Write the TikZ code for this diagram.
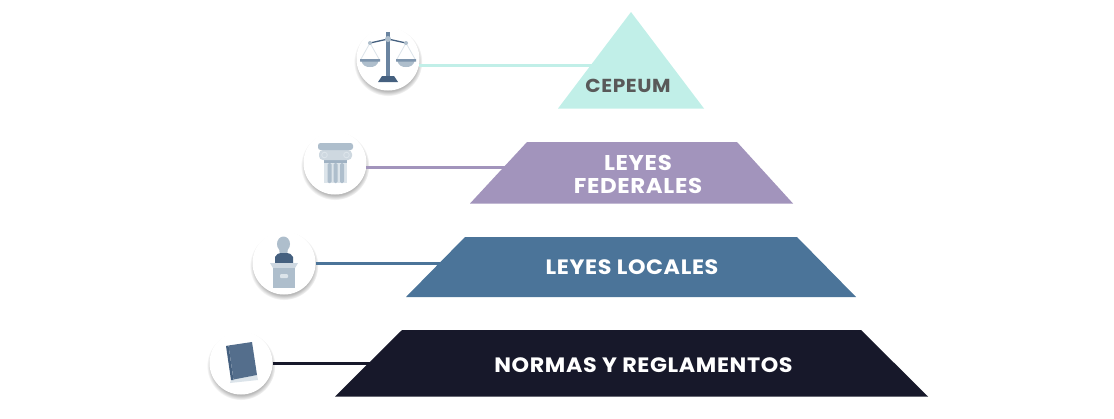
\documentclass[tikz,border=0pt]{standalone}
\usepackage{fontspec}
\setmainfont[FakeStretch=1.07,LetterSpace=3]{Poppins}
\usetikzlibrary{shadows}
\definecolor{lvlmint}{HTML}{C1EFE8}
\definecolor{lvlpurple}{HTML}{A294BC}
\definecolor{lvlblue}{HTML}{4B7499}
\definecolor{lvlnavy}{HTML}{17182A}
\definecolor{icondark}{HTML}{45607F}
\definecolor{iconmid}{HTML}{6A84A0}
\definecolor{icongrey}{HTML}{AEBECC}
\definecolor{iconpale}{HTML}{DCE4EA}
\tikzset{
  lvltext/.style={text=white,align=center,inner sep=0pt,font=\fontsize{20.8}{22.5}\selectfont\bfseries},
  iconbg/.style={circle,fill=white,minimum size=63pt,inner sep=0pt,
    circular drop shadow={shadow xshift=0pt,shadow yshift=-2.5pt,shadow scale=1.09,opacity=.55}},
  link/.style={line width=3pt}
}
\begin{document}
\begin{tikzpicture}[x=1pt,y=-1pt]
  \useasboundingbox (0,0) rectangle (1114,418);
  % icon discs
  \node (scales) [iconbg] at (388,59) {};
  \node (column) [iconbg] at (335,163) {};
  \node (podium) [iconbg] at (284,263) {};
  \node (book) [iconbg] at (241,363) {};
  % ends of the connectors, under the slanted sides
  \coordinate (cepeumlink) at (600,65);
  \coordinate (federallink) at (510,168);
  \coordinate (locallink) at (450,263);
  \coordinate (normaslink) at (375,363);
  \draw[link,lvlmint] (scales.-11) -- (scales.-11 -| cepeumlink);
  \draw[link,lvlpurple] (column.-9) -- (column.-9 -| federallink);
  \draw[link,lvlblue] (podium.east) -- (podium.east -| locallink);
  \draw[link,lvlnavy] (book.east) -- (book.east -| normaslink);
  % pyramid
  \fill[lvlmint] (631,12) -- (704,108.5) -- (558,108.5) -- cycle;
  \fill[lvlpurple] (527,142) -- (737,142) -- (793,203.5) -- (470,203.5) -- cycle;
  \fill[lvlblue] (465,237) -- (797,237) -- (856,297) -- (406,297) -- cycle;
  \fill[lvlnavy] (402,330) -- (861,330) -- (928,396.5) -- (335,396.5) -- cycle;
  % labels
  \node (cepeumtxt) [lvltext,text=black!65,font=\fontsize{18.8}{22}\selectfont\bfseries] at (628,86) {CEPEUM};
  \node (federaltxt) [lvltext,font=\fontsize{21.4}{22.5}\selectfont\bfseries] at (638,174.5) {LEYES\\FEDERALES};
  \node (localtxt) [lvltext] at (632,267) {LEYES LOCALES};
  \node (normastxt) [lvltext] at (643.5,365) {NORMAS Y REGLAMENTOS};
  % scales icon
  \begin{scope}[shift={(scales.center)}]
    \draw[iconpale,line width=.8pt] (-18,-16) -- (-27,0) (-18,-16) -- (-9,0) (18,-16) -- (27,0) (18,-16) -- (9,0);
    \fill[icongrey] (-27,0) -- (-9,0) .. controls (-10,7) and (-14,8) .. (-18,8) .. controls (-22,8) and (-26,7) .. (-27,0) -- cycle;
    \fill[icongrey] (27,0) -- (9,0) .. controls (10,7) and (14,8) .. (18,8) .. controls (22,8) and (26,7) .. (27,0) -- cycle;
    \fill[iconmid!70!icongrey] (-28,0) rectangle (-8,2.5) (8,0) rectangle (28,2.5);
    \draw[icondark,line width=1.3pt] (-18,-16) -- (0,-20) -- (18,-16);
    \fill[iconmid] (-1.7,-27) rectangle (1.7,17);
    \fill[icondark] (-6,17) -- (6,17) -- (10,23) -- (-10,23) -- cycle;
    \fill[icongrey] (-18,-16) circle (2) (18,-16) circle (2) (0,-20) circle (3);
  \end{scope}
  % column icon
  \begin{scope}[shift={(column.center)}]
    \fill[iconpale] (-11,-3) rectangle (12,20);
    \fill[icongrey] (-7.5,0) [rounded corners=1.5pt] -- (-7.5,20) -- (-3.3,20) -- (-3.3,0) -- cycle;
    \fill[icongrey] (-1.3,0) [rounded corners=1.5pt] -- (-1.3,20) -- (2.7,20) -- (2.7,0) -- cycle;
    \fill[icongrey] (5,0) [rounded corners=1.5pt] -- (5,20) -- (9,20) -- (9,0) -- cycle;
    \fill[icongrey!80!iconmid] (-11,-3) rectangle (12,-.5);
    \fill[icongrey!60!white] (-16,-13) [rounded corners=4pt] rectangle (17,-3);
    \fill[icongrey] (-17,-20) [rounded corners=2.5pt] rectangle (18,-13);
    \draw[iconpale,line width=.9pt] (-10.5,-8) circle (2.8) (11.5,-8) circle (2.8);
  \end{scope}
  % podium icon
  \begin{scope}[shift={(podium.center)}]
    \fill[icongrey] (-.5,-19) ellipse (6.5 and 7.5);
    \fill[icongrey] (-5,-15) -- (4,-15) -- (3,-7) -- (-4,-7) -- cycle;
    \fill[icondark] (-9,0) -- (-9,-6) .. controls (-8,-9) and (-5,-10) .. (-3,-10) -- (3,-10) .. controls (5,-10) and (8,-9) .. (9,-6) -- (9,0) -- cycle;
    \fill[iconpale!70!icongrey] (-14,0) -- (14,0) -- (11,5) -- (-11,5) -- cycle;
    \fill[icongrey] (-11,5) rectangle (11,25);
    \fill[iconpale] (-4,11) [rounded corners=1pt] rectangle (4,15);
  \end{scope}
  % book icon
  \begin{scope}[shift={(book.center)}]
    \fill[iconpale] (-10,16) -- (-11,20) -- (17,17) -- (16,12) -- cycle;
    \fill[icondark] (-15,-17) -- (-12.5,-17.5) -- (-7.5,17) -- (-10,17) -- cycle;
    \fill[iconmid!40!icondark] (-12.5,-17.5) -- (11,-21) -- (16,12) -- (-7.5,16.5) -- cycle;
  \end{scope}
\end{tikzpicture}
\end{document}
